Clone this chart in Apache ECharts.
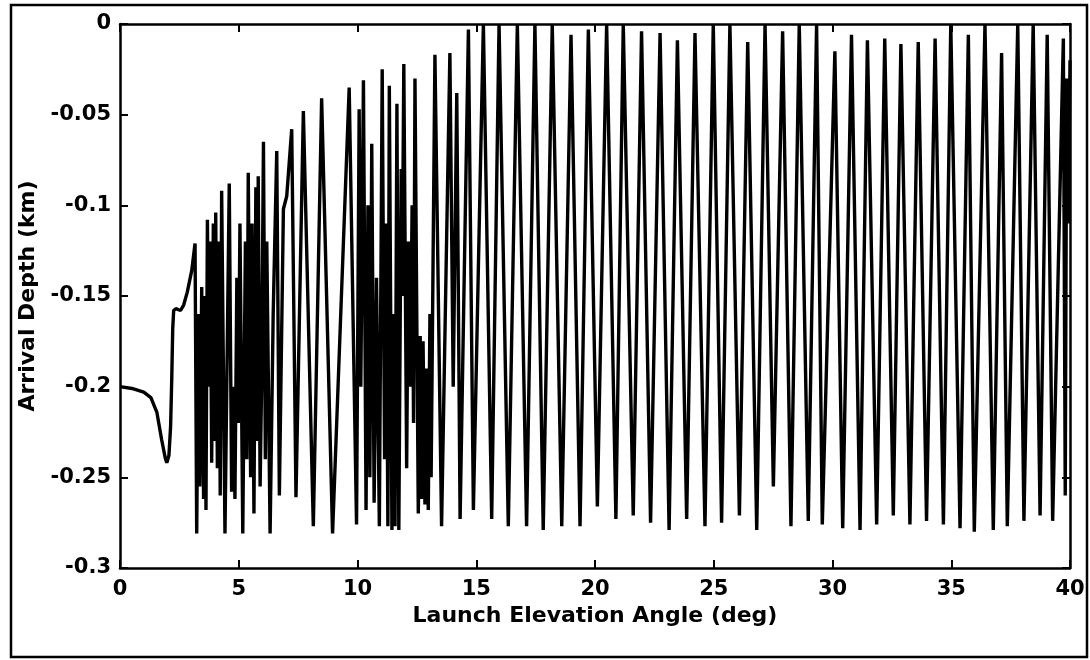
<!DOCTYPE html>
<html>
<head>
<meta charset="utf-8">
<script src="https://cdn.jsdelivr.net/npm/echarts@6/dist/echarts.min.js"></script>
<style>
html,body{margin:0;padding:0;background:#fff;}
#chart{width:1090px;height:660px;}
</style>
</head>
<body>
<div id="chart"></div>
<script>
// Axis ticks
const xTickValues = [0, 5, 10, 15, 20, 25, 30, 35, 40];
const yTickLabels = ['0', '-0.05', '-0.1', '-0.15', '-0.2', '-0.25', '-0.3'];

// Segment A: low-angle arrivals (smooth approach), launch angle (deg) / arrival depth (km)
const angleLow = [0, 0.5, 1.0, 1.3, 1.55, 1.75, 1.9, 1.97, 2.06, 2.13, 2.18, 2.22, 2.26, 2.35, 2.55, 2.68, 2.83, 3.02, 3.16];
const depthLow = [-0.200, -0.201, -0.203, -0.206, -0.214, -0.229, -0.239, -0.242, -0.238, -0.222, -0.195, -0.168, -0.158, -0.157, -0.158, -0.155, -0.148, -0.136, -0.121];

// Segment B: irregular oscillations, 3.2 - 14.7 deg
const angleMid = [3.23, 3.30, 3.36, 3.44, 3.52, 3.58, 3.62, 3.68, 3.74, 3.80, 3.86, 3.93, 3.98, 4.03, 4.10, 4.16, 4.22, 4.28, 4.42, 4.60,
  4.70, 4.78, 4.84, 4.92, 4.98, 5.05, 5.17, 5.28, 5.34, 5.40, 5.50, 5.56, 5.64, 5.72, 5.78, 5.82, 5.90, 5.96, 6.04, 6.12,
  6.18, 6.32, 6.45, 6.60, 6.71, 6.88, 7.02, 7.23, 7.41, 7.72, 8.14, 8.49, 8.95, 9.65, 9.96, 10.07, 10.14, 10.25, 10.36, 10.44,
  10.52, 10.60, 10.70, 10.80, 10.92, 11.04, 11.14, 11.20, 11.28, 11.34, 11.45, 11.52, 11.58, 11.66, 11.74, 11.84, 11.88, 11.95, 12.07, 12.14,
  12.22, 12.30, 12.36, 12.42, 12.56, 12.64, 12.70, 12.76, 12.84, 12.90, 12.98, 13.05, 13.10, 13.26, 13.54, 13.89, 14.03, 14.18, 14.32, 14.67];
const depthMid = [-0.281, -0.160, -0.255, -0.145, -0.262, -0.150, -0.268, -0.108, -0.200, -0.120, -0.242, -0.110, -0.230, -0.104, -0.245, -0.120, -0.260, -0.092, -0.281, -0.088,
  -0.258, -0.200, -0.262, -0.140, -0.220, -0.110, -0.281, -0.120, -0.240, -0.082, -0.250, -0.110, -0.270, -0.090, -0.230, -0.084, -0.255, -0.200, -0.065, -0.240,
  -0.120, -0.281, -0.160, -0.070, -0.260, -0.102, -0.095, -0.058, -0.261, -0.048, -0.277, -0.041, -0.281, -0.035, -0.276, -0.047, -0.200, -0.031, -0.268, -0.100,
  -0.250, -0.066, -0.264, -0.140, -0.277, -0.025, -0.240, -0.110, -0.277, -0.034, -0.279, -0.160, -0.277, -0.044, -0.279, -0.080, -0.150, -0.022, -0.245, -0.120,
  -0.200, -0.100, -0.220, -0.030, -0.270, -0.172, -0.262, -0.175, -0.265, -0.190, -0.268, -0.160, -0.250, -0.017, -0.277, -0.016, -0.200, -0.038, -0.273, -0.003];

// Segment C: regular surface-reaching oscillations, 14.9 - 40 deg
const angleHigh = [14.88, 15.30, 15.65, 15.96, 16.35, 16.73, 17.12, 17.47, 17.82, 18.20, 18.60, 18.99, 19.37, 19.72, 20.10, 20.49, 20.88, 21.19, 21.61, 21.96,
  22.34, 22.74, 23.12, 23.47, 23.86, 24.21, 24.63, 24.98, 25.33, 25.68, 26.08, 26.43, 26.81, 27.16, 27.51, 27.90, 28.25, 28.60, 28.98, 29.33,
  29.57, 30.10, 30.43, 30.80, 31.16, 31.47, 31.86, 32.20, 32.56, 32.88, 33.26, 33.61, 33.96, 34.32, 34.67, 34.98, 35.37, 35.72, 35.97, 36.42,
  36.77, 37.12, 37.36, 37.80, 38.06, 38.45, 38.74, 39.04, 39.27, 39.72, 39.80, 39.86, 39.93, 40.0];
const depthHigh = [-0.268, 0.000, -0.273, 0.000, -0.277, 0.000, -0.277, 0.000, -0.279, 0.000, -0.277, -0.006, -0.277, -0.003, -0.266, 0.000, -0.273, 0.000, -0.271, -0.004,
  -0.275, -0.005, -0.279, -0.009, -0.273, -0.005, -0.277, 0.000, -0.275, 0.000, -0.271, -0.010, -0.279, 0.000, -0.255, -0.004, -0.277, 0.000, -0.274, 0.000,
  -0.276, -0.015, -0.278, -0.006, -0.279, -0.009, -0.276, -0.008, -0.271, -0.011, -0.276, -0.010, -0.274, -0.008, -0.276, 0.000, -0.278, -0.006, -0.280, 0.000,
  -0.279, -0.016, -0.277, 0.000, -0.274, 0.000, -0.271, -0.006, -0.274, -0.008, -0.260, -0.030, -0.110, -0.020];

const angles = angleLow.concat(angleMid, angleHigh);
const depths = depthLow.concat(depthMid, depthHigh);
const seriesData = angles.map((a, i) => [a, depths[i]]);

const FONT = '"DejaVu Sans", Verdana, sans-serif';
const labelStyle = { color: '#000', fontFamily: FONT, fontWeight: 'bold', fontSize: 21 };
const titleStyle = { color: '#000', fontFamily: FONT, fontWeight: 'bold', fontSize: 22 };

const chart = echarts.init(document.getElementById('chart'), null, { renderer: 'canvas' });
chart.setOption({
  animation: false,
  backgroundColor: '#fff',
  graphic: [{
    type: 'rect', silent: true, z: 0,
    shape: { x: 11, y: 5, width: 1076, height: 652 },
    style: { fill: 'none', stroke: '#000', lineWidth: 2.5 }
  }],
  grid: { left: 120, right: 20, top: 24, bottom: 92, show: false },
  xAxis: [{
    type: 'value', min: 0, max: 40, interval: 5, position: 'bottom',
    name: 'Launch Elevation Angle (deg)', nameLocation: 'middle', nameGap: 29,
    nameTextStyle: titleStyle,
    axisLine: { show: true, onZero: false, lineStyle: { color: '#000', width: 2.5 } },
    axisTick: { show: true, inside: true, length: 8, lineStyle: { color: '#000', width: 2 } },
    axisLabel: Object.assign({ margin: 11, formatter: v => String(xTickValues.find(t => Math.abs(t - v) < 1e-6) ?? v) }, labelStyle),
    splitLine: { show: false }
  }, {
    type: 'value', min: 0, max: 40, interval: 5, position: 'top',
    axisLine: { show: true, onZero: false, lineStyle: { color: '#000', width: 2.5 } },
    axisTick: { show: true, inside: true, length: 8, lineStyle: { color: '#000', width: 2 } },
    axisLabel: { show: false }, splitLine: { show: false }
  }],
  yAxis: [{
    type: 'value', min: -0.3, max: 0, interval: 0.05, position: 'left',
    name: 'Arrival Depth (km)', nameLocation: 'middle', nameGap: 75, nameRotate: 90,
    nameTextStyle: titleStyle,
    axisLine: { show: true, onZero: false, lineStyle: { color: '#000', width: 2.5 } },
    axisTick: { show: true, inside: true, length: 8, lineStyle: { color: '#000', width: 2 } },
    axisLabel: Object.assign({
      margin: 9,
      formatter: v => yTickLabels[Math.round(-v / 0.05)]
    }, labelStyle),
    splitLine: { show: false }
  }, {
    type: 'value', min: -0.3, max: 0, interval: 0.05, position: 'right',
    axisLine: { show: true, onZero: false, lineStyle: { color: '#000', width: 2.5 } },
    axisTick: { show: true, inside: true, length: 8, lineStyle: { color: '#000', width: 2 } },
    axisLabel: { show: false }, splitLine: { show: false }
  }],
  series: [{
    type: 'line', xAxisIndex: 0, yAxisIndex: 0,
    data: seriesData, showSymbol: false, smooth: false, clip: true,
    lineStyle: { color: '#000', width: 3.4 }
  }]
});
</script>
</body>
</html>
